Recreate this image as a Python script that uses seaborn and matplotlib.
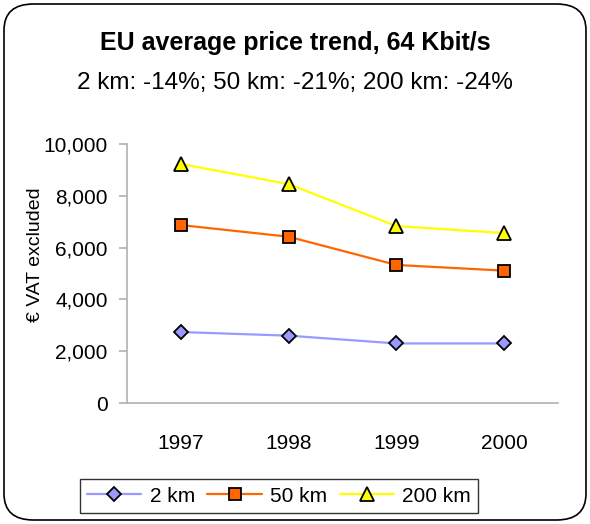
import numpy as np
import pandas as pd
import seaborn as sns
import matplotlib.pyplot as plt
from matplotlib.patches import FancyBboxPatch
from matplotlib.ticker import FixedLocator, FuncFormatter

# datos
anios = ["1997", "1998", "1999", "2000"]
km2 = [2740, 2600, 2300, 2300]
km50 = [6870, 6420, 5330, 5110]
km200 = [9230, 8450, 6830, 6560]
series = ["2 km", "50 km", "200 km"]

colores = {"2 km": "#9999FF", "50 km": "#FF6600", "200 km": "#FFFF00"}
marcadores = {"2 km": "D", "50 km": "s", "200 km": "^"}
tamanos = {"2 km": 7, "50 km": 8, "200 km": 10}

df = pd.DataFrame({
    "anio": anios * 3,
    "valor": km2 + km50 + km200,
    "serie": [s for s in series for _ in anios],
})

sns.set_style("white")
plt.rcParams["font.family"] = ["Liberation Sans", "DejaVu Sans"]
for k in ["text.color", "axes.labelcolor", "xtick.color", "ytick.color"]:
    plt.rcParams[k] = "black"

fig = plt.figure(figsize=(5.9, 5.24), dpi=100)
ax = fig.add_axes([0.2153, 0.2309, 0.7305, 0.4943])

sns.lineplot(data=df, x="anio", y="valor", hue="serie", style="serie",
             palette=colores, markers=marcadores, dashes=False,
             hue_order=series, style_order=series,
             linewidth=1.6, markersize=8, markeredgecolor="black",
             markeredgewidth=1.3, ax=ax, legend=True)

for linea, s in zip(ax.lines, series):
    linea.set_markersize(tamanos[s])

# ejes
ax.set_xlim(-0.5, 3.5)
ax.set_ylim(0, 10000)
ax.set_yticks(np.arange(0, 10001, 2000))
ax.yaxis.set_major_formatter(FuncFormatter(lambda v, p: f"{int(v):,}"))
ax.xaxis.set_minor_locator(FixedLocator([-0.5, 0.5, 1.5, 2.5, 3.5]))
ax.tick_params(axis="x", which="major", length=0, pad=22, labelsize=15)
ax.tick_params(axis="x", which="minor", length=6, color="#b0b0b0", width=1.2)
ax.tick_params(axis="y", length=6, color="#b0b0b0", width=1.2, pad=8,
               labelsize=15, left=True)
ax.set_xlabel("")
ax.set_ylabel("")
for s in ["top", "right"]:
    ax.spines[s].set_visible(False)
for s in ["left", "bottom"]:
    ax.spines[s].set_color("#b0b0b0")
    ax.spines[s].set_linewidth(1.2)

fig.text(35 / 590, 1 - 255 / 524, "€ VAT excluded", rotation=90,
         ha="center", va="center", fontsize=14)

fig.text(0.5, 1 - 43 / 524, "EU average price trend, 64 Kbit/s",
         ha="center", va="center", fontsize=18, fontweight="bold")
fig.text(0.5, 1 - 83 / 524, "2 km: -14%; 50 km: -21%; 200 km: -24%",
         ha="center", va="center", fontsize=17.5)

# leyenda
handles, labels = ax.get_legend_handles_labels()
ax.get_legend().remove()
for h, s in zip(handles, labels):
    h.set_markersize(tamanos[s])
leg = fig.legend(handles, labels, loc="center", ncol=3,
                 bbox_to_anchor=(279 / 590, 1 - 496 / 524),
                 fontsize=15, frameon=True, fancybox=False,
                 handlelength=2.6, handletextpad=0.4, columnspacing=0.6,
                 borderpad=0.35)
leg.get_frame().set_edgecolor("black")
leg.get_frame().set_linewidth(1.0)

# marco redondeado
borde = FancyBboxPatch((4 / 590, 4 / 524), 582 / 590, 516 / 524,
                       boxstyle="round,pad=0,rounding_size=0.05",
                       transform=fig.transFigure, fill=False,
                       edgecolor="black", linewidth=1.2)
fig.patches.append(borde)

fig.savefig("out.png", dpi=100)
